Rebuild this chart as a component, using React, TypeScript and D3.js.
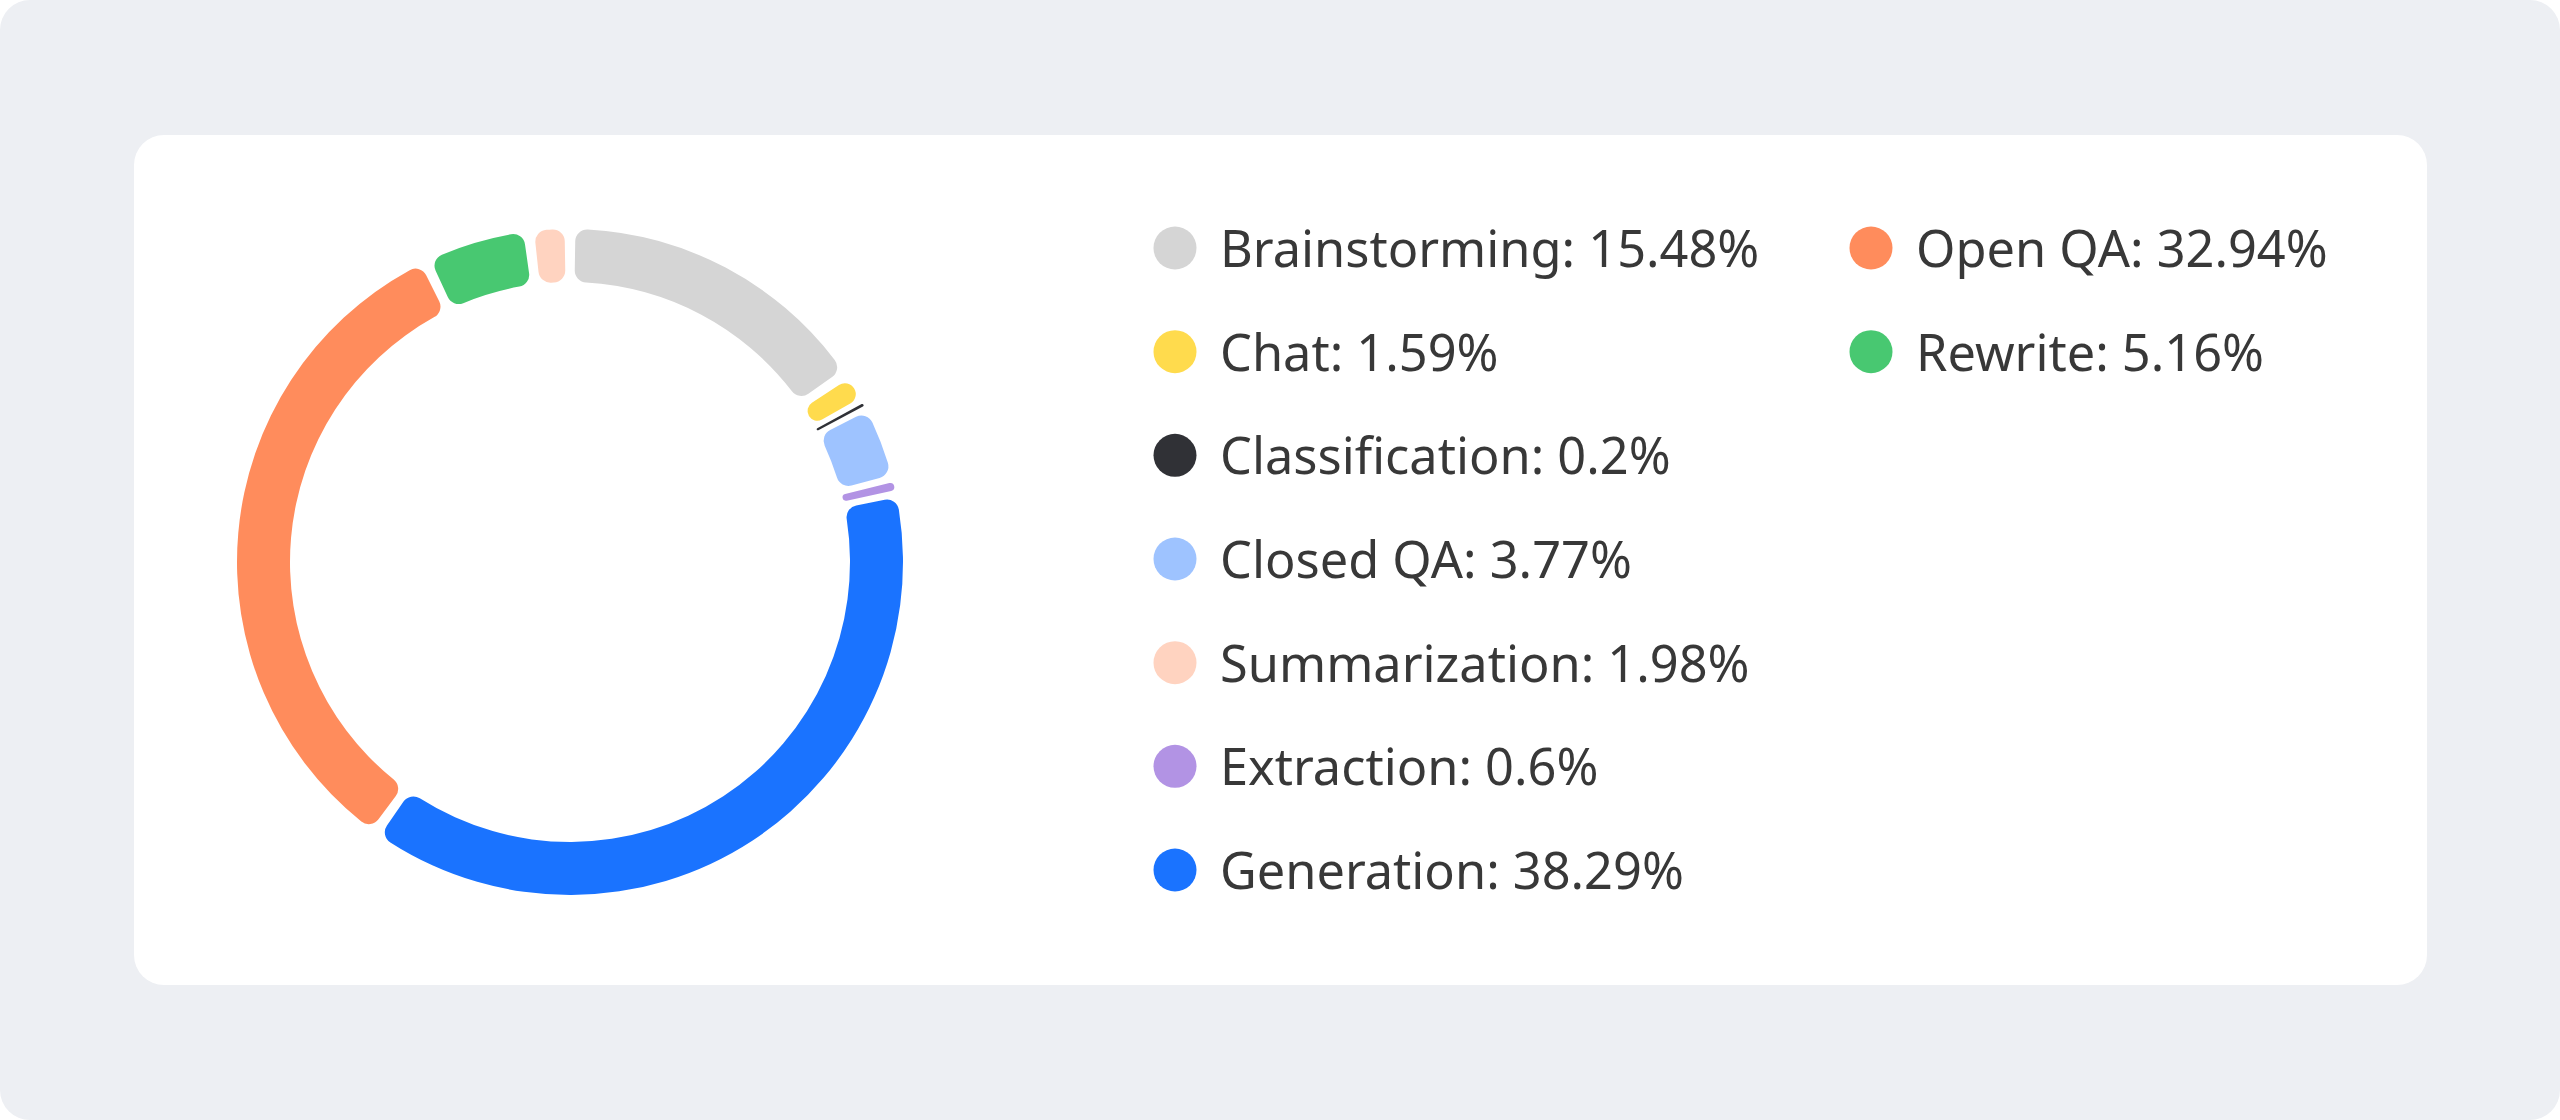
import React, { useEffect, useRef } from "react";
import * as d3 from "d3";

// legend order (data order)
const categories = [
  "Brainstorming",
  "Chat",
  "Classification",
  "Closed QA",
  "Summarization",
  "Extraction",
  "Generation",
  "Open QA",
  "Rewrite",
];
const shares = [15.48, 1.59, 0.2, 3.77, 1.98, 0.6, 38.29, 32.94, 5.16];
const colors = [
  "#d5d5d5",
  "#ffdb4d",
  "#303136",
  "#9ec3ff",
  "#ffd3c0",
  "#b293e4",
  "#1a73ff",
  "#ff8c5c",
  "#48c871",
];

const App = () => {
  const ref = useRef(null);

  useEffect(() => {
    if (ref.current) draw(ref.current);
  }, []);

  const draw = (node) => {
    d3.select(node).selectAll("*").remove();

    const width = 2560;
    const height = 1120;

    const svg = d3
      .select(node)
      .append("svg")
      .attr("width", width)
      .attr("height", height)
      .style("position", "absolute")
      .style("left", 0)
      .style("top", 0);

    // page background + card
    svg
      .append("rect")
      .attr("width", width)
      .attr("height", height)
      .attr("rx", 30)
      .attr("fill", "#edeff3");
    svg
      .append("rect")
      .attr("x", 134)
      .attr("y", 135)
      .attr("width", 2293)
      .attr("height", 850)
      .attr("rx", 30)
      .attr("fill", "#ffffff");

    const data = categories.map((name, i) => ({
      name,
      value: shares[i],
      color: colors[i],
    }));

    // donut: slices go alphabetically, clockwise from the top
    const cx = 570;
    const cy = 562;
    const outerR = 333;
    const innerR = 280;
    const midR = (outerR + innerR) / 2;
    const padPx = 10;

    const pie = d3
      .pie()
      .value((d) => d.value)
      .sort((a, b) => d3.ascending(a.name, b.name));

    const arc = d3
      .arc()
      .innerRadius(innerR)
      .outerRadius(outerR)
      .cornerRadius(12);

    const slices = pie(data).map((s) => {
      const len = (s.endAngle - s.startAngle) * midR;
      const drawn = Math.max(len - padPx, len * 0.65);
      const mid = (s.startAngle + s.endAngle) / 2;
      const half = drawn / 2 / midR;
      return { ...s, startAngle: mid - half, endAngle: mid + half };
    });

    svg
      .append("g")
      .attr("transform", `translate(${cx},${cy})`)
      .selectAll("path")
      .data(slices)
      .enter()
      .append("path")
      .attr("d", arc)
      .attr("fill", (d) => d.data.color);

    // legend: 7 rows in the first column, the rest in the second
    const rowY = d3.scaleLinear().domain([0, 6]).range([248, 870]);
    const colX = [1175, 1871];

    const items = svg
      .append("g")
      .selectAll("g")
      .data(data)
      .enter()
      .append("g")
      .attr(
        "transform",
        (d, i) => `translate(${colX[i < 7 ? 0 : 1]},${rowY(i < 7 ? i : i - 7)})`
      );

    items
      .append("circle")
      .attr("r", 21.5)
      .attr("fill", (d) => d.color);

    items
      .append("text")
      .attr("x", 45)
      .attr("y", 19)
      .attr("font-family", "'Noto Sans', 'Open Sans', sans-serif")
      .attr("font-size", 50.5)
      .attr("fill", "#383838")
      .text((d) => `${d.name}: ${d.value}%`);
  };

  return <div ref={ref} />;
};

export default App;
